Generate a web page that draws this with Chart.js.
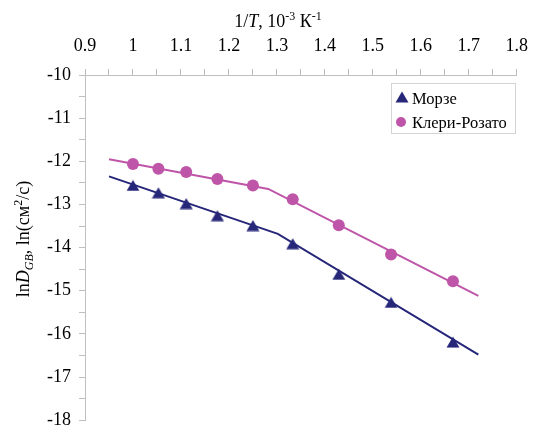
<!DOCTYPE html>
<html>
<head>
<meta charset="utf-8">
<script src="https://cdn.jsdelivr.net/npm/chart.js@4"></script>
<style>
  html, body { margin: 0; padding: 0; background: #fff; }
  canvas { display: block; }
</style>
</head>
<body>
<canvas id="chart" width="540" height="439"></canvas>
<script>
// 1/T, 10^-3 K^-1
var invT = [1.0, 1.053, 1.111, 1.176, 1.25, 1.333, 1.429, 1.538, 1.667];
// lnD_GB values
var morse = [-12.56, -12.73, -12.98, -13.26, -13.49, -13.91, -14.62, -15.27, -16.19];
var clery = [-12.06, -12.17, -12.25, -12.41, -12.56, -12.88, -13.48, -14.16, -14.78];
// fitted broken lines
var morseFitX = [0.95, 1.302, 1.72];
var morseFitY = [-12.35, -13.68, -16.48];
var cleryFitX = [0.95, 1.282, 1.72];
var cleryFitY = [-11.95, -12.64, -15.12];
var seriesNames = ['Морзе', 'Клери-Розато'];
// axis ranges
var xMin = 0.9, xMax = 1.8, xStep = 0.05;
var yMin = -18, yMax = -10, yStep = 0.5;

var navy = '#27277a';
var magenta = '#bf55a8';
var serif = '"Liberation Serif", "Times New Roman", serif';
var axisGray = '#bfbfbf';

function pts(xs, ys) {
  return xs.map(function(x, i) { return { x: x, y: ys[i] }; });
}

// triangle marker, centred on its box like the original
var tri = document.createElement('canvas');
tri.width = 14; tri.height = 12;
(function() {
  var c = tri.getContext('2d');
  c.fillStyle = navy;
  c.beginPath();
  c.moveTo(7, 0.5);
  c.lineTo(13.5, 11.5);
  c.lineTo(0.5, 11.5);
  c.closePath();
  c.fill();
})();

function drawRuns(ctx, runs, cx, y) {
  var base = 18, small = 12;
  var total = 0;
  runs.forEach(function(r) {
    ctx.font = (r.it ? 'italic ' : '') + (r.sup || r.sub ? small : base) + 'px ' + serif;
    r.w = ctx.measureText(r.t).width;
    total += r.w;
  });
  var x = cx - total / 2;
  runs.forEach(function(r) {
    ctx.font = (r.it ? 'italic ' : '') + (r.sup || r.sub ? small : base) + 'px ' + serif;
    var dy = r.sup ? -7 : (r.sub ? 4 : 0);
    ctx.fillText(r.t, x, y + dy);
    x += r.w;
  });
}

var extras = {
  id: 'extras',
  afterDraw: function(chart) {
    var ctx = chart.ctx;
    ctx.save();
    ctx.fillStyle = '#000';
    ctx.textAlign = 'left';
    ctx.textBaseline = 'alphabetic';

    // axis titles
    drawRuns(ctx, [
      { t: '1/' }, { t: 'T', it: true }, { t: ', 10' }, { t: '-3', sup: true },
      { t: ' К' }, { t: '-1', sup: true }
    ], 278, 26.5);

    ctx.save();
    ctx.translate(29, 239);
    ctx.rotate(-Math.PI / 2);
    drawRuns(ctx, [
      { t: 'ln' }, { t: 'D', it: true }, { t: 'GB', it: true, sub: true },
      { t: ', ln(см' }, { t: '2', sup: true }, { t: '/с)' }
    ], 0, 0);
    ctx.restore();

    // legend
    ctx.fillStyle = '#fff';
    ctx.fillRect(391, 83, 124, 50);
    ctx.strokeStyle = '#d4d4d4';
    ctx.lineWidth = 1;
    ctx.strokeRect(391.5, 83.5, 124, 50);
    ctx.drawImage(tri, 402 - 7, 97 - 6);
    ctx.fillStyle = magenta;
    ctx.beginPath();
    ctx.arc(401, 122, 5, 0, Math.PI * 2);
    ctx.fill();
    ctx.fillStyle = '#000';
    ctx.font = '16.5px ' + serif;
    ctx.fillText(chart.data.datasets[0].label, 412, 104);
    ctx.fillText(chart.data.datasets[1].label, 412, 128);
    ctx.restore();
  }
};

function build() {
  new Chart(document.getElementById('chart'), {
    type: 'scatter',
    data: {
      datasets: [{
        label: seriesNames[0],
        data: pts(invT, morse),
        pointStyle: tri,
        pointRadius: 7,
        backgroundColor: navy,
        borderColor: navy
      }, {
        label: seriesNames[1],
        data: pts(invT, clery),
        pointStyle: 'circle',
        pointRadius: 6,
        borderWidth: 0,
        backgroundColor: magenta,
        borderColor: magenta
      }, {
        label: seriesNames[0] + ' fit',
        data: pts(morseFitX, morseFitY),
        showLine: true,
        pointRadius: 0,
        borderColor: navy,
        borderWidth: 2
      }, {
        label: seriesNames[1] + ' fit',
        data: pts(cleryFitX, cleryFitY),
        showLine: true,
        pointRadius: 0,
        borderColor: magenta,
        borderWidth: 2
      }]
    },
    options: {
      responsive: false,
      animation: false,
      devicePixelRatio: 1,
      layout: {
        autoPadding: false,
        padding: { left: 0, top: 0, right: 20, bottom: 9.5 }
      },
      plugins: {
        legend: { display: false },
        tooltip: { enabled: false }
      },
      scales: {
        x: {
          type: 'linear',
          position: 'top',
          min: xMin,
          max: xMax,
          ticks: {
            stepSize: xStep,
            autoSkip: false,
            maxRotation: 0,
            padding: 12,
            color: '#000',
            font: { family: serif, size: 18 },
            callback: function(v) {
              var r = Math.round(v * 10);
              return Math.abs(v * 10 - r) < 1e-6 ? String(r / 10) : '';
            }
          },
          grid: { drawOnChartArea: false, tickLength: 6, tickColor: axisGray },
          border: { color: axisGray },
          afterFit: function(s) { s.height = 75; }
        },
        y: {
          min: yMin,
          max: yMax,
          ticks: {
            stepSize: yStep,
            autoSkip: false,
            padding: 8,
            color: '#000',
            font: { family: serif, size: 18 },
            callback: function(v) {
              return Math.abs(v - Math.round(v)) < 1e-6 ? String(Math.round(v)) : '';
            }
          },
          grid: { drawOnChartArea: false, tickLength: 6, tickColor: axisGray },
          border: { color: axisGray },
          afterFit: function(s) { s.width = 85; }
        }
      }
    },
    plugins: [extras]
  });
}

if (document.fonts && document.fonts.load) {
  Promise.all([
    document.fonts.load('18px "Liberation Serif"'),
    document.fonts.load('italic 18px "Liberation Serif"')
  ]).then(build, build);
} else {
  build();
}
</script>
</body>
</html>
